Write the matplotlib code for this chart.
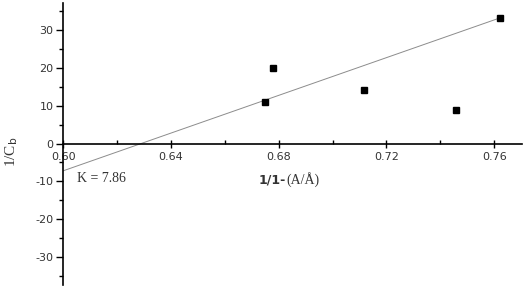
import matplotlib.pyplot as plt
from matplotlib.ticker import MultipleLocator
from matplotlib.transforms import offset_copy

plt.rcParams["axes.unicode_minus"] = False

# Dados
x_pontos = [0.6748, 0.6778, 0.7117, 0.7457, 0.7620]
y_pontos = [11.1, 19.9, 14.1, 9.0, 33.2]

# Reta ajustada (extremos)
x_reta = [0.600, 0.7620]
y_reta = [-7.2, 33.2]

x_ticks = [0.60, 0.64, 0.68, 0.72, 0.76]
y_ticks = [-30, -20, -10, 0, 10, 20, 30]

fig = plt.figure(figsize=(5.27, 3.04), dpi=100)
ax = fig.add_axes([0.120, 0.0625, 0.870, 0.928])

ax.plot(x_reta, y_reta, color="#8c8c8c", linewidth=0.7)
ax.plot(x_pontos, y_pontos, linestyle="none", marker="s", markersize=5,
        color="black")

ax.set_xlim(0.600, 0.7702)
ax.set_ylim(-37.4, 37.2)

ax.spines["top"].set_visible(False)
ax.spines["right"].set_visible(False)
ax.spines["bottom"].set_position(("data", 0))
ax.spines["left"].set_linewidth(1.2)
ax.spines["bottom"].set_linewidth(1.2)

ax.set_xticks(x_ticks)
ax.set_xticklabels([f"{v:.2f}" for v in x_ticks])
ax.set_yticks(y_ticks)
ax.xaxis.set_minor_locator(MultipleLocator(0.02))
ax.yaxis.set_minor_locator(MultipleLocator(5))

ax.tick_params(axis="x", which="major", direction="inout", length=6, width=1,
               labelsize=8, pad=3)
ax.tick_params(axis="x", which="minor", direction="in", length=3, width=1)
ax.tick_params(axis="y", which="major", direction="out", length=5, width=1,
               labelsize=8, pad=2)
ax.tick_params(axis="y", which="minor", direction="out", length=3, width=1)

for lbl in ax.get_xticklabels() + ax.get_yticklabels():
    lbl.set_color("#333333")

ax.text(0.605, -9.3, "K = 7.86", family="Liberation Serif", fontsize=10,
        color="#333333", va="center", ha="left")

# rótulo do eixo x: parte em negrito + parte serifada
t1 = ax.text(0.6725, -9.6, "1/1-", fontsize=9, color="#333333",
             va="center", ha="left", fontweight="bold")
fig.canvas.draw()
largura = t1.get_window_extent().width
ax.text(0.6725, -9.6, "(A/Å)", fontsize=10, color="#333333",
        va="center", ha="left", family="Liberation Serif",
        transform=offset_copy(ax.transData, fig=fig, x=largura + 1,
                              units="dots"))

fig.text(0.022, 0.50, r"1/C$_\mathrm{b}$", rotation=90, fontsize=11,
         color="#333333", va="center", ha="center",
         family="Liberation Serif")

fig.savefig("out.png", dpi=100)
